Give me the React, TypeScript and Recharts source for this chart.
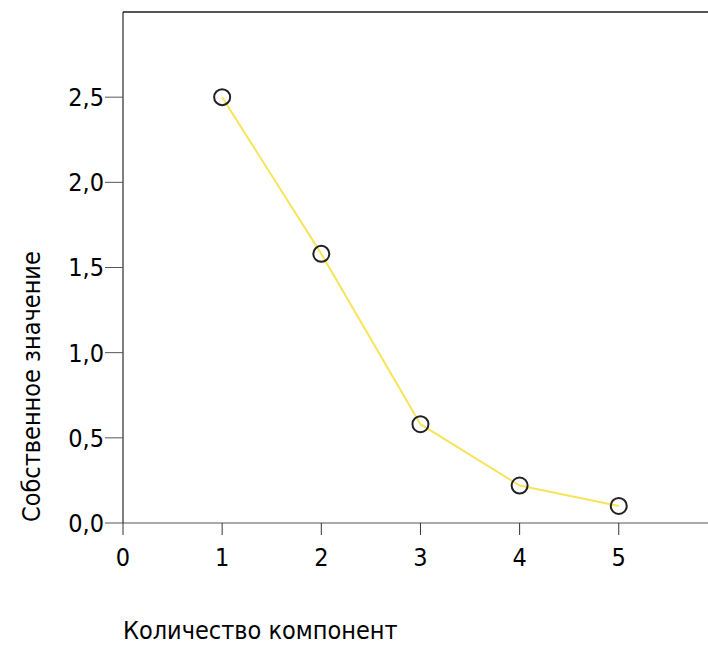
import { LineChart, Line, XAxis, YAxis, ReferenceLine, Label } from 'recharts'

const components = [1, 2, 3, 4, 5]
const eigenvalues = [2.5, 1.58, 0.58, 0.22, 0.1]
const yTicks = [0, 0.5, 1, 1.5, 2, 2.5]
const xTicks = [0, 1, 2, 3, 4, 5]

const data = components.map((c, i) => ({ n: c, value: eigenvalues[i] }))

const FONT = '"DejaVu Sans Condensed", Tahoma, sans-serif'
const fmt = (v: number) => v.toFixed(1).replace('.', ',')

// axis titles sit at the origin corner rather than centred on the axis
const XTitle = (props: any) => {
  const { x, y } = props.viewBox
  return (
    <text x={x} y={y + 116} fontSize={25} fontFamily={FONT} fill="#000">
      Количество компонент
    </text>
  )
}

const YTitle = (props: any) => {
  const { y, height } = props.viewBox
  const bottom = y + height
  return (
    <text
      x={0}
      y={0}
      transform={`translate(40, ${bottom - 1}) rotate(-90)`}
      fontSize={25}
      fontFamily={FONT}
      fill="#000"
    >
      Собственное значение
    </text>
  )
}

export default function App() {
  return (
    <div style={{ position: 'absolute', left: 0, top: 0 }}>
      <LineChart width={708} height={646} data={data} margin={{ top: 12, right: 0, left: 0, bottom: 0 }}>
        <XAxis
          type="number"
          dataKey="n"
          domain={[0, 5.9]}
          ticks={xTicks}
          height={123}
          stroke="#555"
          tickSize={12}
          tickMargin={13}
          tick={{ fill: '#000', fontSize: 25, fontFamily: FONT }}
          tickLine={{ stroke: '#333' }}
        >
          <Label content={<XTitle />} />
        </XAxis>
        <YAxis
          type="number"
          domain={[0, 3]}
          ticks={yTicks}
          width={123}
          axisLine={{ stroke: '#000' }}
          tickSize={18}
          tickMargin={1}
          tickLine={{ stroke: '#555' }}
          tickFormatter={fmt}
          tick={{ fill: '#000', fontSize: 25, fontFamily: FONT }}
        >
          <Label content={<YTitle />} />
        </YAxis>
        <ReferenceLine y={3} stroke="#555" strokeWidth={2} />
        <Line
          dataKey="value"
          stroke="#f8e45a"
          strokeWidth={2}
          isAnimationActive={false}
          dot={{ r: 8, stroke: '#222', strokeWidth: 2, fill: 'none' }}
        />
      </LineChart>
    </div>
  )
}
